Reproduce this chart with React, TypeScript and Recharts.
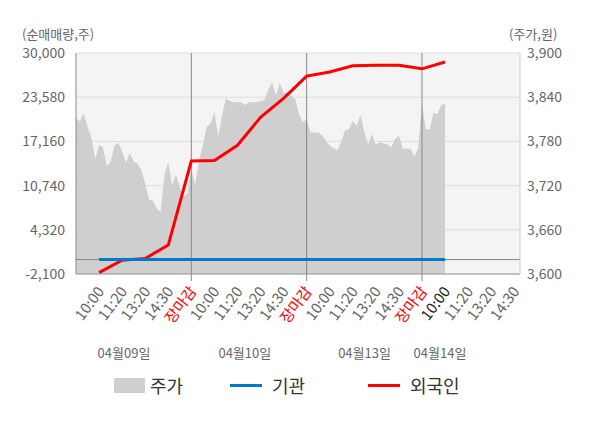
import React from 'react';
import {
  ComposedChart,
  Area,
  Line,
  XAxis,
  YAxis,
  CartesianGrid,
  ReferenceLine,
} from 'recharts';

// x axis: one slot per tick, 5 slots per trading day
const timeLabels = [
  '10:00', '11:20', '13:20', '14:30', '장마감',
  '10:00', '11:20', '13:20', '14:30', '장마감',
  '10:00', '11:20', '13:20', '14:30', '장마감',
  '10:00', '11:20', '13:20', '14:30',
];
const dateLabels = ['04월09일', '04월10일', '04월13일', '04월14일'];
const dateTickPos = [2.08, 7.32, 12.51, 15.78];
const dayBoundaries = [5, 10, 15];

// net buying (주), one value per tick from 04/09 10:00 to 04/14 10:00
const foreignValues = [
  -1900, -100, 150, 2100, 14300, 14400, 16600, 20650,
  23400, 26650, 27250, 28150, 28220, 28220, 27700, 28700,
];
const institutionValues = [0, 0, 0, 0, 0, 0, 0, 0, 0, 0, 0, 0, 0, 0, 0, 0];

// share price (원), 6 samples per slot
const priceDay1 = [
  3812, 3807, 3818, 3800, 3785, 3756, 3775, 3772, 3747, 3752,
  3774, 3778, 3767, 3751, 3764, 3753, 3750, 3741, 3723, 3701,
  3699, 3689, 3684, 3735, 3752, 3720, 3735, 3718, 3705, 3710,
];
const priceDay2 = [
  3741, 3722, 3754, 3775, 3800, 3804, 3820, 3787, 3815, 3839,
  3835, 3833, 3833, 3833, 3829, 3833, 3833, 3833, 3835, 3836,
  3850, 3860, 3842, 3860, 3846, 3845, 3842, 3838, 3818, 3806,
];
const priceDay3 = [
  3810, 3792, 3792, 3792, 3788, 3781, 3774, 3771, 3768, 3780,
  3795, 3796, 3808, 3801, 3816, 3793, 3776, 3790, 3775, 3779,
  3777, 3776, 3772, 3783, 3788, 3770, 3770, 3770, 3760, 3770,
];
const priceDay4 = [3830, 3797, 3796, 3819, 3817, 3829, 3831];

const leftTicks = [-2100, 4320, 10740, 17160, 23580, 30000];
const rightTicks = [3600, 3660, 3720, 3780, 3840, 3900];

const SAMPLES_PER_SLOT = 6;
const prices = [...priceDay1, ...priceDay2, ...priceDay3, ...priceDay4];

const chartData = prices.map((price, k) => {
  const row: Record<string, number> = { x: k / SAMPLES_PER_SLOT, price };
  if (k % SAMPLES_PER_SLOT === 0 && k >= SAMPLES_PER_SLOT) {
    const i = k / SAMPLES_PER_SLOT - 1;
    row.foreign = foreignValues[i];
    row.institution = institutionValues[i];
  }
  return row;
});

const timeTicks = timeLabels.map((_, i) => i + 1);

const TIME_AXIS = 0;
const DATE_AXIS = 1;

function TimeTick(props: any) {
  const { x, y, payload } = props;
  const label = timeLabels[payload.value - 1];
  const isClose = label === '장마감';
  const color = isClose ? '#ff0000' : payload.value === 16 ? '#222' : '#666';
  return (
    <g>
      {isClose && <line x1={x} x2={x} y1={y - 13} y2={y - 6} stroke="#888" />}
      <text
        x={x}
        y={y}
        dy="0.5em"
        textAnchor="end"
        fill={color}
        fontSize={15}
        transform={`rotate(-53, ${x}, ${y})`}
      >
        {label}
      </text>
    </g>
  );
}

const fmt = (v: number) => v.toLocaleString('en-US');

export default function App() {
  return (
    <div
      style={{
        position: 'absolute',
        top: 0,
        left: 0,
        width: 600,
        height: 428,
        background: '#fff',
        fontFamily: '"Noto Sans CJK KR", "Noto Sans", sans-serif',
      }}
    >
      <div style={{ position: 'absolute', left: 22, top: 24, fontSize: 13, color: '#666' }}>
        (순매매량,주)
      </div>
      <div style={{ position: 'absolute', left: 509, top: 24, fontSize: 13, color: '#666' }}>
        (주가,원)
      </div>

      <ComposedChart
        width={600}
        height={428}
        data={chartData}
        margin={{ top: 53, right: 0, bottom: 62, left: 0 }}
      >
        <CartesianGrid
          xAxisId={TIME_AXIS}
          yAxisId="left"
          vertical={false}
          stroke="#dddddd"
          fill="#f4f4f4"
        />
        <XAxis
          xAxisId={TIME_AXIS}
          dataKey="x"
          type="number"
          domain={[0, 19.25]}
          ticks={timeTicks}
          interval={0}
          allowDataOverflow
          height={62}
          tickLine={false}
          tickSize={6}
          tickMargin={7}
          axisLine={{ stroke: '#999' }}
          tick={<TimeTick />}
        />
        <XAxis
          xAxisId={DATE_AXIS}
          dataKey="x"
          type="number"
          domain={[0, 19.25]}
          ticks={dateTickPos}
          interval={0}
          allowDataOverflow
          height={30}
          axisLine={false}
          tickLine={false}
          tickSize={0}
          tickMargin={13}
          tick={{ fill: '#666', fontSize: 13 }}
          tickFormatter={(v: number) => dateLabels[dateTickPos.indexOf(v)] ?? ''}
        />
        <YAxis
          yAxisId="left"
          width={76}
          domain={[-2100, 30000]}
          ticks={leftTicks}
          interval={0}
          allowDataOverflow
          tickLine={false}
          tickMargin={5}
          axisLine={{ stroke: '#888' }}
          tick={{ fill: '#666', fontSize: 14 }}
          tickFormatter={fmt}
        />
        <YAxis
          yAxisId="right"
          orientation="right"
          width={80}
          domain={[3600, 3900]}
          ticks={rightTicks}
          interval={0}
          allowDataOverflow
          tickLine={false}
          tickMargin={1}
          axisLine={{ stroke: '#ccc' }}
          tick={{ fill: '#666', fontSize: 14, textAnchor: 'start' }}
          tickFormatter={fmt}
        />
        <Area
          xAxisId={TIME_AXIS}
          yAxisId="right"
          dataKey="price"
          type="linear"
          stroke="none"
          fill="#cfcfcf"
          fillOpacity={1}
          isAnimationActive={false}
        />
        {dayBoundaries.map((d) => (
          <ReferenceLine key={d} xAxisId={TIME_AXIS} yAxisId="left" x={d} stroke="#888" />
        ))}
        <ReferenceLine xAxisId={TIME_AXIS} yAxisId="left" y={0} stroke="#888" />
        <Line
          xAxisId={TIME_AXIS}
          yAxisId="left"
          dataKey="foreign"
          type="linear"
          stroke="#ff0000"
          strokeWidth={3}
          dot={false}
          connectNulls
          isAnimationActive={false}
        />
        <Line
          xAxisId={TIME_AXIS}
          yAxisId="left"
          dataKey="institution"
          type="linear"
          stroke="#007acc"
          strokeWidth={3}
          dot={false}
          connectNulls
          isAnimationActive={false}
        />
      </ComposedChart>

      <div
        style={{
          position: 'absolute',
          top: 374,
          left: 0,
          width: 600,
          height: 24,
          fontSize: 18,
          color: '#333',
        }}
      >
        <div style={{ position: 'absolute', left: 114, top: 4, width: 31, height: 15, background: '#cfcfcf' }} />
        <div style={{ position: 'absolute', left: 150, top: -2 }}>주가</div>
        <div style={{ position: 'absolute', left: 230, top: 10, width: 32, height: 3, background: '#007acc' }} />
        <div style={{ position: 'absolute', left: 272, top: -2 }}>기관</div>
        <div style={{ position: 'absolute', left: 368, top: 10, width: 32, height: 3, background: '#ff0000' }} />
        <div style={{ position: 'absolute', left: 410, top: -2 }}>외국인</div>
      </div>
    </div>
  );
}
